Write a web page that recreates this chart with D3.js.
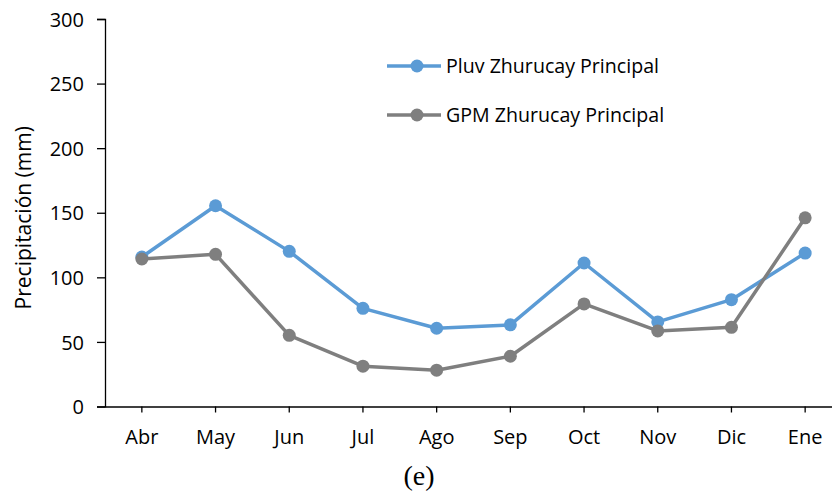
<!DOCTYPE html>
<html>
<head>
<meta charset="utf-8">
<script src="https://cdn.jsdelivr.net/npm/d3@7"></script>
<style>
  body { margin: 0; background: #fff; }
  svg { display: block; }
  .axis text { font-family: "Open Sans", Lato, sans-serif; font-size: 20px; fill: #000; }
  .axis path, .axis line { stroke: #000; stroke-width: 1.3px; }
</style>
</head>
<body>
<div id="chart"></div>
<script>
const months = ["Abr", "May", "Jun", "Jul", "Ago", "Sep", "Oct", "Nov", "Dic", "Ene"];
const pluv = [115.7, 155.4, 120.1, 76.0, 60.6, 63.2, 111.1, 65.5, 82.7, 118.8];
const gpm = [114.2, 117.8, 55.1, 31.2, 28.1, 38.9, 79.4, 58.5, 61.3, 146.1];
const yTicks = [0, 50, 100, 150, 200, 250, 300];

const series = [
    {name: "Pluv Zhurucay Principal", values: pluv, color: "#5b9bd5"},
    {name: "GPM Zhurucay Principal", values: gpm, color: "#7f7f7f"}
];

const width = 832, height = 493;
const margin = {top: 19, right: -10, bottom: 86, left: 105};

const svg = d3.select("#chart").append("svg")
    .attr("width", width)
    .attr("height", height);

const x = d3.scaleBand()
    .domain(months)
    .range([margin.left, width - margin.right]);

const y = d3.scaleLinear()
    .domain([0, 300])
    .range([height - margin.bottom - 0.5, margin.top]);

// y axis
svg.append("g")
    .attr("class", "axis")
    .attr("transform", `translate(${margin.left},0)`)
    .call(d3.axisLeft(y).tickValues(yTicks).tickSize(8).tickSizeOuter(8).tickPadding(13))
    .call(g => g.selectAll("text").attr("dy", "0.36em"));

// x axis
svg.append("g")
    .attr("class", "axis")
    .attr("transform", `translate(0,${y(0)})`)
    .call(d3.axisBottom(x).tickSize(6).tickSizeOuter(0).tickPadding(16))
    .call(g => g.selectAll("text").attr("dy", "0.75em"));

// y title
svg.append("text")
    .attr("transform", `translate(31,${y(150) + 5}) rotate(-90)`)
    .attr("text-anchor", "middle")
    .style("font-family", "'Open Sans', Lato, sans-serif")
    .style("font-size", "21px")
    .text("Precipitación (mm)");

const line = d3.line()
    .x((d, i) => x(months[i]) + x.bandwidth() / 2)
    .y(d => y(d));

series.forEach(s => {
    svg.append("path")
        .datum(s.values)
        .attr("fill", "none")
        .attr("stroke", s.color)
        .attr("stroke-width", 3.5)
        .attr("stroke-linejoin", "round")
        .attr("d", line);

    svg.append("g")
        .selectAll("circle")
        .data(s.values)
        .join("circle")
        .attr("cx", (d, i) => x(months[i]) + x.bandwidth() / 2)
        .attr("cy", d => y(d))
        .attr("r", 6.5)
        .attr("fill", s.color);
});

// legend
const legend = svg.append("g")
    .attr("transform", "translate(387,66)");

legend.selectAll("g")
    .data(series)
    .join("g")
    .attr("transform", (d, i) => `translate(0,${i * 49})`)
    .each(function (d) {
        const g = d3.select(this);
        g.append("line")
            .attr("x1", 0).attr("x2", 54)
            .attr("stroke", d.color)
            .attr("stroke-width", 3.5);
        g.append("circle")
            .attr("cx", 30).attr("r", 6.5)
            .attr("fill", d.color);
        g.append("text")
            .attr("x", 59)
            .attr("dy", "0.36em")
            .style("font-family", "'Open Sans', Lato, sans-serif")
            .style("font-size", "19.6px")
            .text(d.name);
    });

// panel label
svg.append("text")
    .attr("x", 419)
    .attr("y", 485)
    .attr("text-anchor", "middle")
    .style("font-family", "'Liberation Serif', 'DejaVu Serif', serif")
    .style("font-size", "28px")
    .text("(e)");
</script>
</body>
</html>
